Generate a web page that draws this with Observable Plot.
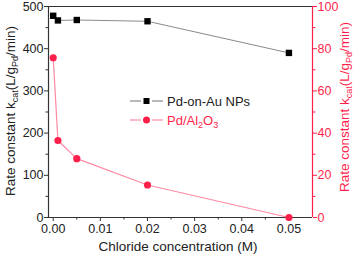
<!DOCTYPE html>
<html><head><meta charset="utf-8">
<script src="https://cdn.jsdelivr.net/npm/d3@7"></script>
<script src="https://cdn.jsdelivr.net/npm/@observablehq/plot@0.6"></script>
<style>body{margin:0;background:#fff}svg{font-family:"Liberation Sans",Arial,sans-serif}</style>
</head><body><div id="chart"></div>
<script>
const chloride = [0, 0.001, 0.005, 0.02, 0.05];
const pdOnAu = [478, 467, 468, 465, 390];       // left axis
const pdAl2O3 = [75.7, 36.5, 27.9, 15.4, 0];     // right axis
const leftTicks = [0, 100, 200, 300, 400, 500];
const rightTicks = [0, 20, 40, 60, 80, 100];
const xTicks = [0, 0.01, 0.02, 0.03, 0.04, 0.05];

const RED = "#ff1f4b", PINK = "#ff8aa3", DARK = "#333";
const ratio = 500 / 100;
const au = chloride.map((x, i) => ({x, y: pdOnAu[i]}));
const al = chloride.map((x, i) => ({x, y: pdAl2O3[i]}));

const plot = Plot.plot({
  width: 354, height: 256,
  marginLeft: 48, marginRight: 42, marginTop: 6, marginBottom: 39,
  style: {fontSize: "12.5px", fontFamily: "Liberation Sans, Arial, sans-serif", background: "#fff"},
  x: {domain: [-0.001, 0.055]},
  y: {domain: [0, 500]},
  marks: [
    Plot.axisX({ticks: xTicks, tickFormat: d3.format(".2f"), tickSize: 4, tickPadding: 3, label: null, color: "#222", stroke: DARK}),
    Plot.axisX({ticks: d3.range(0.005, 0.055, 0.01), tickFormat: () => "", tickSize: 2.5, label: null, stroke: DARK}),
    Plot.axisY({ticks: leftTicks, tickSize: 4, tickPadding: 1, label: null, color: "#222", stroke: DARK}),
    Plot.axisY({ticks: d3.range(50, 500, 100), tickFormat: () => "", tickSize: 2.5, label: null, stroke: DARK}),
    Plot.axisY({anchor: "right", ticks: rightTicks.map(d => d * ratio), tickFormat: d => d / ratio, tickSize: 4, tickPadding: 1, label: null, color: RED, stroke: RED}),
    Plot.axisY({anchor: "right", ticks: d3.range(10, 100, 20).map(d => d * ratio), tickFormat: () => "", tickSize: 2.5, label: null, stroke: RED}),
    Plot.ruleY([0, 500], {stroke: DARK, strokeWidth: 1.2}),
    Plot.ruleX([-0.001], {stroke: DARK, strokeWidth: 1.2}),
    Plot.ruleX([0.055], {stroke: RED, strokeWidth: 1.2}),
    Plot.line(au, {x: "x", y: "y", stroke: "#8a8a8a", strokeWidth: 1}),
    Plot.dot(au, {x: "x", y: "y", symbol: "square", r: 3.6, fill: "#000"}),
    Plot.line(al, {x: "x", y: d => d.y * ratio, stroke: PINK, strokeWidth: 1.2}),
    Plot.dot(al, {x: "x", y: d => d.y * ratio, r: 3.6, fill: RED})
  ]
});
document.getElementById("chart").append(plot);

const svg = d3.select(plot);
function title(x, y, color) {
  const t = svg.append("text").attr("transform", `translate(${x},${y}) rotate(-90)`)
    .attr("text-anchor", "middle").attr("fill", color).style("font-size", "13.5px");
  t.append("tspan").text("Rate constant k");
  t.append("tspan").attr("dy", 3).style("font-size", "9px").text("cat");
  t.append("tspan").attr("dy", -3).text("(L/g");
  t.append("tspan").attr("dy", 3).style("font-size", "9px").text("Pd");
  t.append("tspan").attr("dy", -3).text("/min)");
}
title(15, 111, "#222");
title(349, 107, RED);
svg.append("text").attr("x", 178).attr("y", 251).attr("text-anchor", "middle")
  .attr("fill", "#222").style("font-size", "13.5px").text("Chloride concentration (M)");

const leg = svg.append("g").attr("text-anchor", "start");
[[101, "#8a8a8a", "#000", "square"], [120, PINK, RED, "circle"]].forEach(([y, lc, mc, s]) => {
  leg.append("line").attr("x1", 130).attr("x2", 141).attr("y1", y).attr("y2", y).attr("stroke", lc).attr("stroke-width", 1.2);
  leg.append("line").attr("x1", 152).attr("x2", 163).attr("y1", y).attr("y2", y).attr("stroke", lc).attr("stroke-width", 1.2);
  if (s === "square") leg.append("rect").attr("x", 143.5).attr("y", y - 3).attr("width", 6).attr("height", 6).attr("fill", mc);
  else leg.append("circle").attr("cx", 146.5).attr("cy", y).attr("r", 3.5).attr("fill", mc);
});
leg.append("text").attr("x", 167).attr("y", 105.5).attr("fill", "#222").style("font-size", "13px").text("Pd-on-Au NPs");
const l2 = leg.append("text").attr("x", 167).attr("y", 124.5).attr("fill", RED).style("font-size", "13px");
l2.append("tspan").text("Pd/Al");
l2.append("tspan").attr("dy", 3).style("font-size", "9px").text("2");
l2.append("tspan").attr("dy", -3).text("O");
l2.append("tspan").attr("dy", 3).style("font-size", "9px").text("3");
</script></body></html>
